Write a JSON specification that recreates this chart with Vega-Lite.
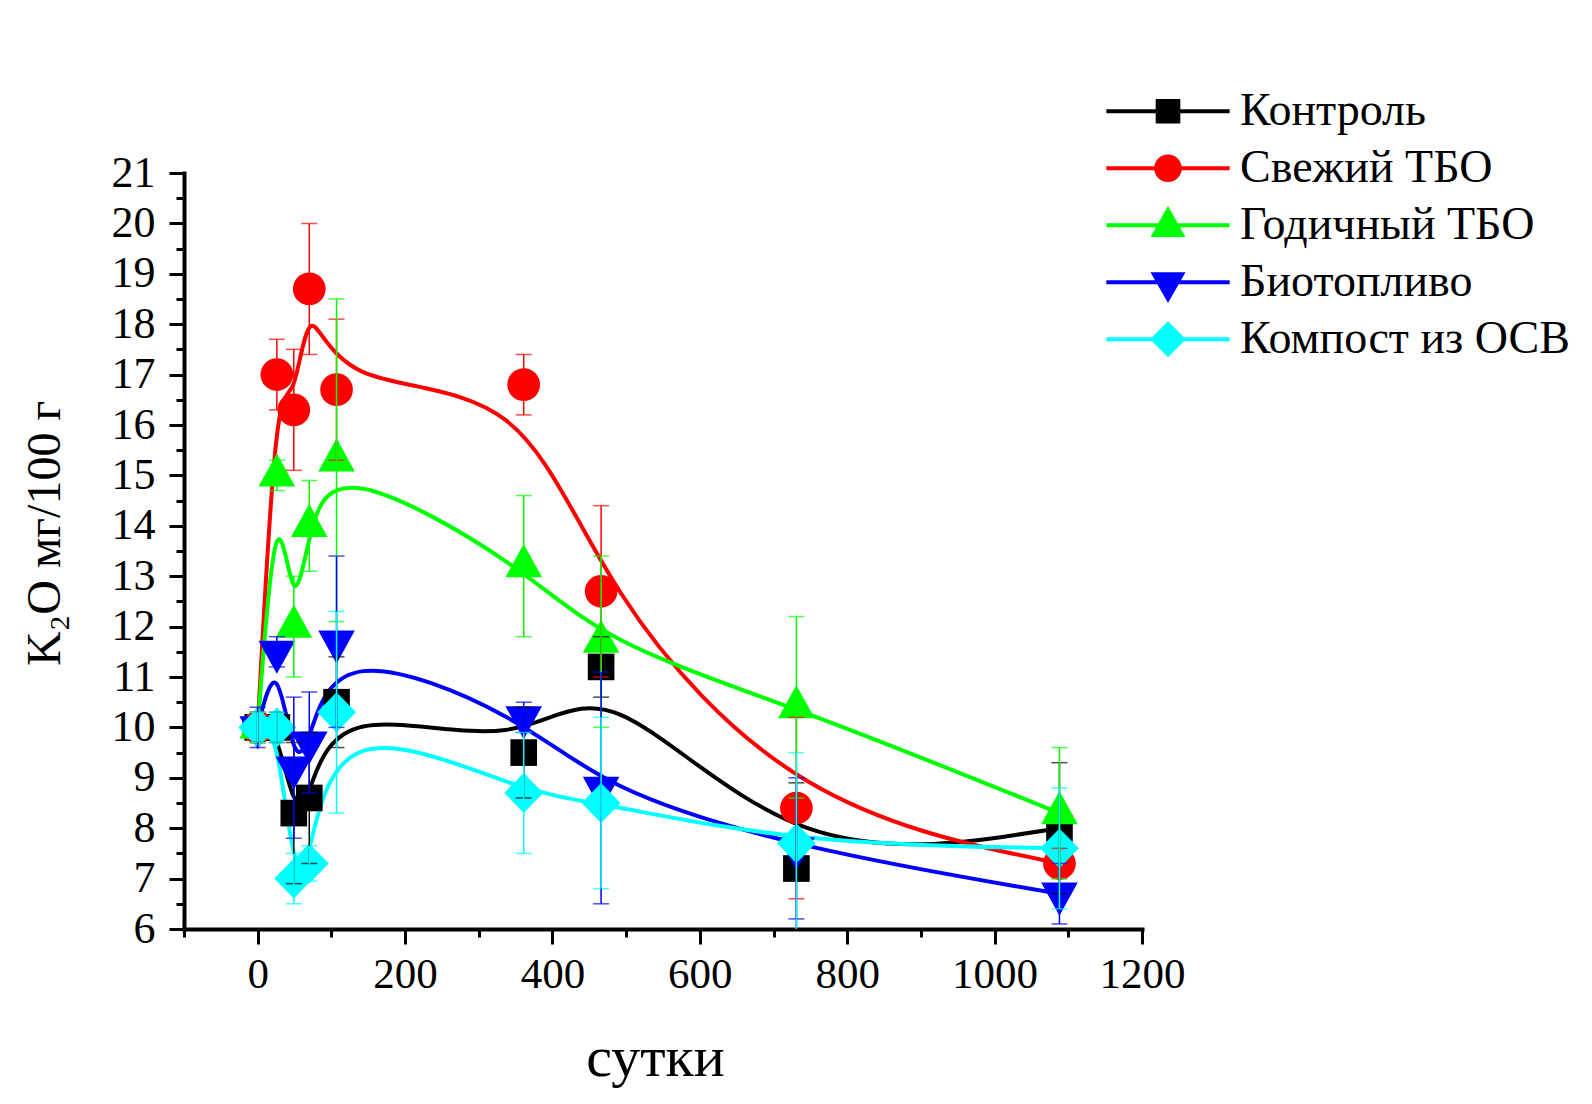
{
  "$schema": "https://vega.github.io/schema/vega-lite/v6.json",
  "autosize": {"type": "none"},
  "width": 958,
  "height": 756,
  "padding": {"left": 184, "top": 173, "right": 450, "bottom": 175},
  "background": "white",
  "config": {
    "font": "Liberation Serif",
    "view": {"stroke": null},
    "axis": {"grid": false, "domainColor": "black", "tickColor": "black", "labelColor": "black", "titleColor": "black", "labelFont": "Liberation Serif", "titleFont": "Liberation Serif", "titleFontWeight": "normal", "labelFlush": false, "labelOverlap": false}
  },
  "data": {
    "values": [
      {"series": "Контроль", "day": 0, "value": 10.0, "err": 0.3},
      {"series": "Контроль", "day": 26, "value": 10.0, "err": 0.3},
      {"series": "Контроль", "day": 49, "value": 8.3, "err": 1.4},
      {"series": "Контроль", "day": 70, "value": 8.6, "err": 1.3},
      {"series": "Контроль", "day": 107, "value": 10.5, "err": 0.9},
      {"series": "Контроль", "day": 361, "value": 9.5, "err": 0.9},
      {"series": "Контроль", "day": 466, "value": 11.2, "err": 0.6},
      {"series": "Контроль", "day": 731, "value": 7.2, "err": 1.7},
      {"series": "Контроль", "day": 1088, "value": 8.0, "err": 1.3},
      {"series": "Свежий ТБО", "day": 0, "value": 10.0, "err": 0.3},
      {"series": "Свежий ТБО", "day": 26, "value": 17.0, "err": 0.7},
      {"series": "Свежий ТБО", "day": 49, "value": 16.3, "err": 1.2},
      {"series": "Свежий ТБО", "day": 70, "value": 18.7, "err": 1.3},
      {"series": "Свежий ТБО", "day": 107, "value": 16.7, "err": 1.4},
      {"series": "Свежий ТБО", "day": 361, "value": 16.8, "err": 0.6},
      {"series": "Свежий ТБО", "day": 466, "value": 12.7, "err": 1.7},
      {"series": "Свежий ТБО", "day": 731, "value": 8.4, "err": 1.8},
      {"series": "Свежий ТБО", "day": 1088, "value": 7.3, "err": 0.3},
      {"series": "Годичный ТБО", "day": 0, "value": 10.0, "err": 0.3},
      {"series": "Годичный ТБО", "day": 26, "value": 15.0, "err": 0.3},
      {"series": "Годичный ТБО", "day": 49, "value": 12.0, "err": 1.0},
      {"series": "Годичный ТБО", "day": 70, "value": 14.0, "err": 0.9},
      {"series": "Годичный ТБО", "day": 107, "value": 15.3, "err": 3.2},
      {"series": "Годичный ТБО", "day": 361, "value": 13.2, "err": 1.4},
      {"series": "Годичный ТБО", "day": 466, "value": 11.7, "err": 1.7},
      {"series": "Годичный ТБО", "day": 731, "value": 10.4, "err": 1.8},
      {"series": "Годичный ТБО", "day": 1088, "value": 8.3, "err": 1.3},
      {"series": "Биотопливо", "day": 0, "value": 10.0, "err": 0.4},
      {"series": "Биотопливо", "day": 26, "value": 11.5, "err": 0.3},
      {"series": "Биотопливо", "day": 49, "value": 9.2, "err": 1.4},
      {"series": "Биотопливо", "day": 70, "value": 9.7, "err": 1.0},
      {"series": "Биотопливо", "day": 107, "value": 11.7, "err": 1.7},
      {"series": "Биотопливо", "day": 361, "value": 10.2, "err": 0.3},
      {"series": "Биотопливо", "day": 466, "value": 8.8, "err": 2.3},
      {"series": "Биотопливо", "day": 731, "value": 7.6, "err": 1.4},
      {"series": "Биотопливо", "day": 1088, "value": 6.7, "err": 0.6},
      {"series": "Компост из ОСВ", "day": 0, "value": 10.0, "err": 0.3},
      {"series": "Компост из ОСВ", "day": 26, "value": 10.0, "err": 0.3},
      {"series": "Компост из ОСВ", "day": 49, "value": 7.0, "err": 0.5},
      {"series": "Компост из ОСВ", "day": 70, "value": 7.3, "err": 0.35},
      {"series": "Компост из ОСВ", "day": 107, "value": 10.3, "err": 2.0},
      {"series": "Компост из ОСВ", "day": 361, "value": 8.7, "err": 1.2},
      {"series": "Компост из ОСВ", "day": 466, "value": 8.5, "err": 1.7},
      {"series": "Компост из ОСВ", "day": 731, "value": 7.7, "err": 1.8},
      {"series": "Компост из ОСВ", "day": 1088, "value": 7.6, "err": 1.2}
    ]
  },
  "resolve": {"axis": {"x": "independent", "y": "independent"}},
  "layer": [
    {
      "mark": {"type": "line", "interpolate": "basis", "strokeWidth": 4},
      "encoding": {
        "x": {
          "field": "day", "type": "quantitative",
          "scale": {"domain": [-100, 1200], "nice": false, "zero": false},
          "axis": {
            "orient": "bottom",
            "values": [0, 200, 400, 600, 800, 1000, 1200], "format": "d",
            "tickSize": 15, "tickWidth": 3, "domainWidth": 4, "domainCap": "square",
            "labelFontSize": 43, "labelPadding": 43, "labelBaseline": "alphabetic",
            "title": "сутки", "titleFontSize": 58, "titleX": 471, "titleY": 146, "titleBaseline": "alphabetic"
          }
        },
        "y": {
          "field": "value", "type": "quantitative",
          "scale": {"domain": [6, 21], "nice": false, "zero": false},
          "axis": {
            "orient": "left",
            "values": [6, 7, 8, 9, 10, 11, 12, 13, 14, 15, 16, 17, 18, 19, 20, 21], "format": "d",
            "tickSize": 15, "tickWidth": 3, "domainWidth": 4, "domainCap": "square",
            "labelFontSize": 44, "labelPadding": 14, "labelBaseline": "middle",
            "title": "K₂O мг/100 г", "titleFontSize": 48, "titleX": -125, "titleY": 360, "titleBaseline": "alphabetic", "titleAngle": 270
          }
        },
        "color": {
          "field": "series", "type": "nominal",
          "scale": {
            "domain": ["Контроль", "Свежий ТБО", "Годичный ТБО", "Биотопливо", "Компост из ОСВ"],
            "range": ["#000000", "#ff0000", "#00ff00", "#0000ff", "#00ffff"]
          }
        }
      }
    },
    {
      "mark": {
        "type": "point", "filled": true, "size": 1369, "opacity": 1, "strokeWidth": 0,
        "shape": {"expr": "datum.series === 'Контроль' ? 'M-0.72,-0.72H0.72V0.72H-0.72Z' : datum.series === 'Свежий ТБО' ? 'M-0.884,0A0.884,0.884,0,1,1,0.884,0A0.884,0.884,0,1,1,-0.884,0Z' : datum.series === 'Годичный ТБО' ? 'M0,-1.19L0.99,0.6L-0.99,0.6Z' : datum.series === 'Биотопливо' ? 'M-0.99,-0.6L0.99,-0.6L0,1.19Z' : 'M0,-1.08L1.05,0L0,1.08L-1.05,0Z'"}
      },
      "encoding": {
        "x": {
          "field": "day", "type": "quantitative",
          "axis": {
            "orient": "bottom",
            "values": [-100, 100, 300, 500, 700, 900, 1100],
            "tickSize": 8, "tickWidth": 3, "domain": false, "labels": false, "title": null
          }
        },
        "y": {
          "field": "value", "type": "quantitative",
          "axis": {
            "orient": "left",
            "values": [6.5, 7.5, 8.5, 9.5, 10.5, 11.5, 12.5, 13.5, 14.5, 15.5, 16.5, 17.5, 18.5, 19.5, 20.5],
            "tickSize": 8, "tickWidth": 3, "domain": false, "labels": false, "title": null
          }
        },
        "color": {"field": "series", "type": "nominal"}
      }
    },
    {
      "mark": {"type": "errorbar", "clip": true, "thickness": 1.5, "ticks": {"size": 16, "thickness": 1.5}},
      "encoding": {
        "x": {"field": "day", "type": "quantitative", "axis": null},
        "y": {"field": "value", "type": "quantitative", "axis": null},
        "yError": {"field": "err"},
        "color": {"field": "series", "type": "nominal"}
      }
    },
    {
      "transform": [{"filter": "false"}],
      "mark": {"type": "point", "filled": true, "size": 15203, "strokeWidth": 0},
      "encoding": {
        "x": {"field": "day", "type": "quantitative", "axis": null},
        "y": {"field": "value", "type": "quantitative", "axis": null},
        "color": {
          "field": "series", "type": "nominal",
          "legend": {
            "title": null, "orient": "none", "direction": "vertical",
            "legendX": 922, "legendY": -89, "padding": 0,
            "clipHeight": 54.5, "rowPadding": 2,
            "symbolSize": 15203, "symbolStrokeWidth": 0, "symbolOpacity": 1, "symbolOffset": 0,
            "labelOffset": 10, "labelFont": "Liberation Serif", "labelFontSize": 46, "labelColor": "black",
            "labelBaseline": "middle", "labelLimit": 700
          }
        },
        "shape": {
          "field": "series", "type": "nominal",
          "scale": {
            "domain": ["Контроль", "Свежий ТБО", "Годичный ТБО", "Биотопливо", "Компост из ОСВ"],
            "range": [
              "M-1,-0.0324H1V0.0324H-1Z M-0.2,-0.2H0.2V0.2H-0.2Z",
              "M-1,-0.0324H1V0.0324H-1Z M-0.224,0A0.224,0.224,0,1,1,0.224,0A0.224,0.224,0,1,1,-0.224,0Z",
              "M-1,-0.0324H1V0.0324H-1Z M0,-0.313L0.284,0.19L-0.284,0.19Z",
              "M-1,-0.0324H1V0.0324H-1Z M-0.284,-0.162L0.284,-0.162L0,0.336Z",
              "M-1,-0.0324H1V0.0324H-1Z M0,-0.292L0.292,0L0,0.292L-0.292,0Z"
            ]
          },
          "legend": {
            "title": null, "orient": "none", "direction": "vertical",
            "legendX": 922, "legendY": -89, "padding": 0,
            "clipHeight": 54.5, "rowPadding": 2,
            "symbolSize": 15203, "symbolStrokeWidth": 0, "symbolOpacity": 1, "symbolOffset": 0,
            "labelOffset": 10, "labelFont": "Liberation Serif", "labelFontSize": 46, "labelColor": "black",
            "labelBaseline": "middle", "labelLimit": 700
          }
        }
      }
    }
  ]
}
